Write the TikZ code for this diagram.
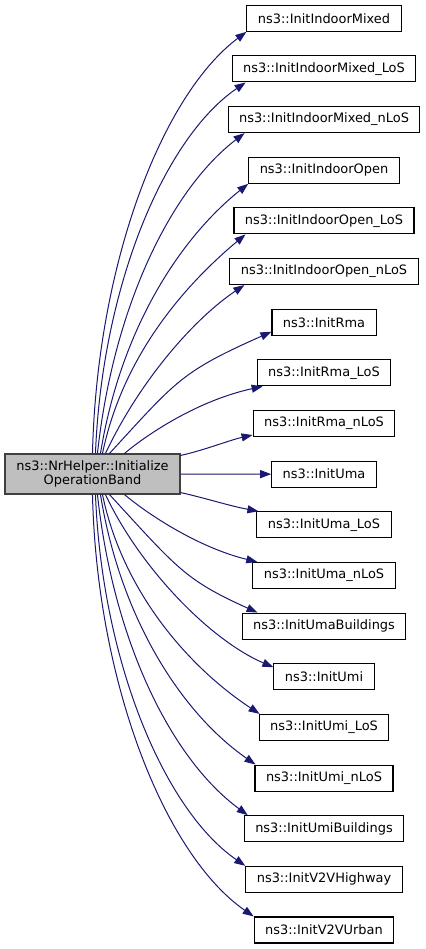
\documentclass[tikz,border=0pt]{standalone}
\usepackage{fontspec}
\setmainfont{DejaVu Sans}
\usetikzlibrary{arrows.meta,calc}
\definecolor{edgeblue}{HTML}{191970}
\definecolor{mainfill}{HTML}{BFBFBF}
\definecolor{mainborder}{HTML}{404040}
\begin{document}
\begin{tikzpicture}[x=0.75pt,y=-0.75pt,
  font=\fontsize{9.7pt}{11pt}\selectfont,
  fn/.style={draw=black, line width=0.8pt, fill=white, inner xsep=8.25pt, inner ysep=0pt, minimum height=19.5pt},
  mainnode/.style={draw=mainborder, line width=0.8pt, fill=mainfill, minimum width=131.25pt, minimum height=30pt, inner sep=0pt, align=center},
  edge/.style={draw=edgeblue, line width=0.75pt, -{Triangle[length=8.25pt,width=6pt]}}]
\useasboundingbox (0,0) rectangle (425,949);

\node[mainnode] (main) at (92.5,474) {ns3::NrHelper::Initialize\\OperationBand};

\node[fn] (n1) at (324,18.3) {ns3::InitIndoorMixed};
\node[fn] (n2) at (324,68.95) {ns3::InitIndoorMixed\_LoS};
\node[fn] (n3) at (324,119.6) {ns3::InitIndoorMixed\_nLoS};
\node[fn] (n4) at (324,170.25) {ns3::InitIndoorOpen};
\node[fn] (n5) at (324,220.9) {ns3::InitIndoorOpen\_LoS};
\node[fn] (n6) at (324,271.55) {ns3::InitIndoorOpen\_nLoS};
\node[fn] (n7) at (324,322.2) {ns3::InitRma};
\node[fn] (n8) at (324,372.85) {ns3::InitRma\_LoS};
\node[fn] (n9) at (324,423.5) {ns3::InitRma\_nLoS};
\node[fn] (n10) at (324,474.15) {ns3::InitUma};
\node[fn] (n11) at (324,524.8) {ns3::InitUma\_LoS};
\node[fn] (n12) at (324,575.45) {ns3::InitUma\_nLoS};
\node[fn] (n13) at (324,626.1) {ns3::InitUmaBuildings};
\node[fn] (n14) at (324,676.75) {ns3::InitUmi};
\node[fn] (n15) at (324,727.4) {ns3::InitUmi\_LoS};
\node[fn] (n16) at (324,778.05) {ns3::InitUmi\_nLoS};
\node[fn] (n17) at (324,828.7) {ns3::InitUmiBuildings};
\node[fn] (n18) at (324,879.35) {ns3::InitV2VHighway};
\node[fn] (n19) at (324,930) {ns3::InitV2VUrban};

% upper edges
\draw[edge] ($(main.north west)+(88,0)$) .. controls (97,264) and (162,95) .. (n1.south west);
\draw[edge] ($(main.north west)+(91,0)$) .. controls (102,287) and (164,138) .. ($(n2.south west)+(14,0)$);
\draw[edge] ($(main.north west)+(93,0)$) .. controls (113,309) and (170,190) .. ($(n3.south west)+(17,0)$);
\draw[edge] ($(main.north west)+(96,0)$) .. controls (120,332) and (178,240) .. (n4.south west);
\draw[edge] ($(main.north west)+(98,0)$) .. controls (123,355) and (185,285) .. ($(n5.south west)+(12,0)$);
\draw[edge] ($(main.north west)+(101,0)$) .. controls (140,380) and (195,318) .. ($(n6.south west)+(15,0)$);
\draw[edge] ($(main.north west)+(105,0)$) .. controls (177,380) and (181,372) .. ($(n7.south west)+(0,-4)$);
\draw[edge] ($(main.north west)+(120,0)$) .. controls (150,432) and (200,400) .. ($(n8.south west)+(6,0)$);
\draw[edge] ($(main.north east)+(0,2)$) .. controls (205,450) and (230,440) .. ($(n9.south west)+(0,-2)$);
% middle
\draw[edge] (main.east) -- (n10.west);
% lower edges
\draw[edge] ($(main.south east)+(0,-2)$) .. controls (205,498) and (230,506) .. ($(n11.north west)+(2,0)$);
\draw[edge] ($(main.south west)+(120,0)$) .. controls (150,516) and (200,548) .. ($(n12.north west)+(5,0)$);
\draw[edge] ($(main.south west)+(105,0)$) .. controls (177,568) and (185,580) .. ($(n13.north west)+(16,0)$);
\draw[edge] ($(main.south west)+(101,0)$) .. controls (140,568) and (210,640) .. ($(n14.north west)+(0,4)$);
\draw[edge] ($(main.south west)+(98,0)$) .. controls (123,593) and (190,668) .. ($(n15.north west)+(1,0)$);
\draw[edge] ($(main.south west)+(96,0)$) .. controls (120,616) and (180,712) .. ($(n16.north west)+(1,0)$);
\draw[edge] ($(main.south west)+(93,0)$) .. controls (113,639) and (170,758) .. ($(n17.north west)+(4,0)$);
\draw[edge] ($(main.south west)+(91,0)$) .. controls (102,661) and (164,810) .. (n18.north west);
\draw[edge] ($(main.south west)+(88,0)$) .. controls (97,684) and (165,855) .. (n19.north west);
\end{tikzpicture}
\end{document}
